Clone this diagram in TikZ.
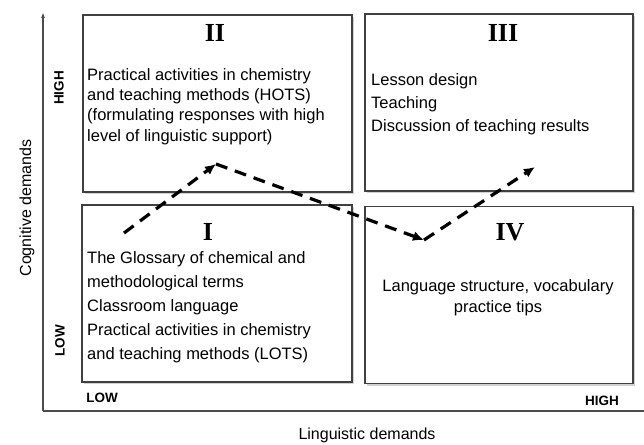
\documentclass[tikz,border=0pt]{standalone}
\usepackage{fontspec}
\setmainfont{Liberation Sans}
\newfontfamily\numeralfont{Liberation Serif}
\usetikzlibrary{shadows, arrows.meta}

\begin{document}
\begin{tikzpicture}[x=1pt, y=-1pt, >={Latex[length=11pt, width=10pt]},
		quad/.style={draw=black!75, line width=1.3pt, fill=white, inner sep=0pt,
			minimum width=#1, minimum height=177pt,
			drop shadow={shadow xshift=2pt, shadow yshift=-2pt, fill=black!30, opacity=0.6}},
		quad/.default=269pt,
		numeral/.style={font=\numeralfont\fontsize{26}{26}\selectfont\bfseries, inner sep=0pt},
		txt/.style={inner sep=0pt, anchor=west, align=left, font=\fontsize{16.5}{#1}\selectfont},
		txt/.default=20.3,
		lbl/.style={inner sep=0pt, font=\fontsize{16}{18}\selectfont},
		lvl/.style={inner sep=0pt, font=\fontsize{13.5}{15}\selectfont\bfseries},
		flow/.style={->, line width=3.2pt, dash pattern=on 12pt off 8pt}]
	\useasboundingbox (0,0) rectangle (644,444);

	% axes
	\coordinate (origin) at (43,411);
	\coordinate (ytop) at (43,12);
	\coordinate (xend) at (644,411);
	\draw[black!70, line width=1.2pt] (xend) -- (origin);
	\draw[-{Latex[length=6pt, width=4pt]}, black!70, line width=1.2pt] (origin) -- (ytop);
	\node[lbl, rotate=90] (ylabel) at (27,208) {Cognitive demands};
	\node[lbl] (xlabel) at (367,435) {Linguistic demands};
	\node[lvl, rotate=90] (yhigh) at (59,88) {HIGH};
	\node[lvl, rotate=90] (ylow) at (60,341) {LOW};
	\node[lvl] (xlow) at (102,398) {LOW};
	\node[lvl] (xhigh) at (602,401) {HIGH};

	% quadrants
	\node[quad] (q2) at (217.5,103.5) {};
	\node[quad=268pt] (q3) at (499,102.5) {};
	\node[quad=270pt] (q1) at (217,293.5) {};
	\node[quad=268pt] (q4) at (499,295) {};

	\node[numeral] (n2) at (215,33) {II};
	\node[numeral] (n3) at (503,33) {III};
	\node[numeral] (n1) at (208,232) {I};
	\node[numeral] (n4) at (510,232) {IV};

	\node[txt] (t2) at (87,106.5) {Practical activities in chemistry\\and teaching methods (HOTS)\\(formulating responses with high\\level of linguistic support)};
	\node[txt=23] (t3) at (371,104) {Lesson design\\Teaching\\Discussion of teaching results};
	\node[txt=24] (t1) at (87,307) {The Glossary of chemical and\\methodological terms\\Classroom language\\Practical activities in chemistry\\and teaching methods (LOTS)};
	\node[txt=21, anchor=center, align=center] (t4) at (498,297.5) {Language structure, vocabulary\\practice tips};

	% path through the quadrants
	\coordinate (start) at (124,233);
	\coordinate (peak) at (216,164);
	\coordinate (dip) at (424,240);
	\coordinate (finish) at (535,167);
	\draw[flow] (start) -- (peak);
	\draw[flow] (peak) -- (dip);
	\draw[flow] (dip) -- (finish);
\end{tikzpicture}
\end{document}
